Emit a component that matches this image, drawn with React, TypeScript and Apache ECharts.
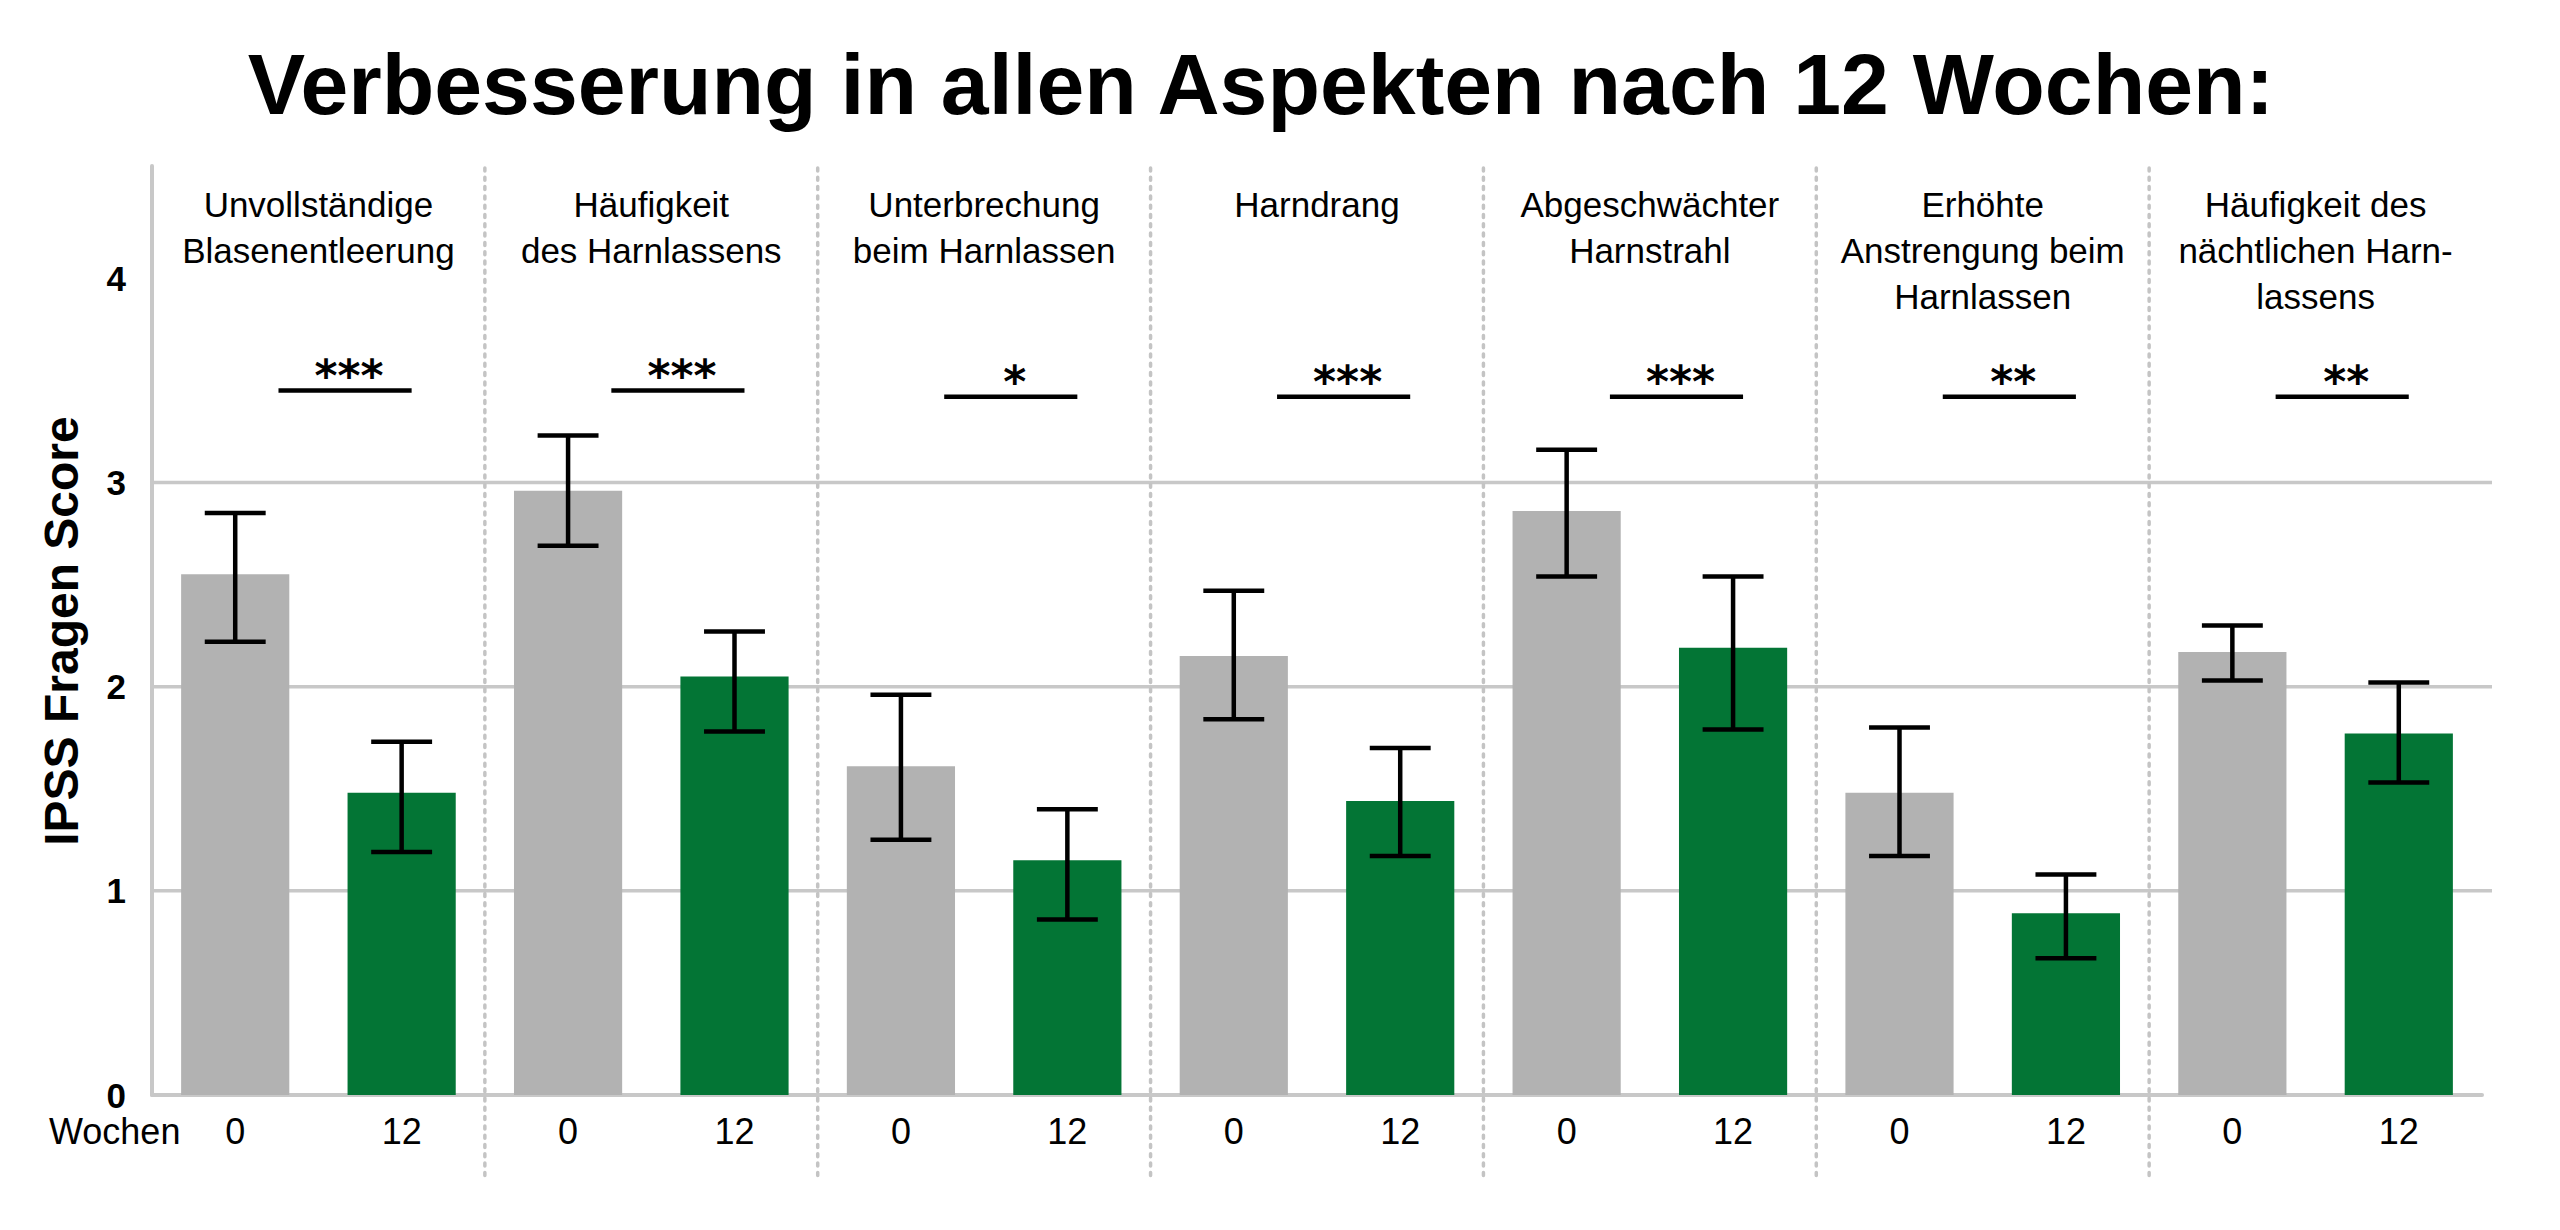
import React, { useEffect, useRef } from "react";
import * as echarts from "echarts";

// ---------- data ----------
const categories = [
  "Unvollständige\nBlasenentleerung",
  "Häufigkeit\ndes Harnlassens",
  "Unterbrechung\nbeim Harnlassen",
  "Harndrang",
  "Abgeschwächter\nHarnstrahl",
  "Erhöhte\nAnstrengung beim\nHarnlassen",
  "Häufigkeit des\nnächtlichen Harn-\nlassens",
];
const weekLabels = ["0", "12"];
const week0Mean = [2.55, 2.96, 1.61, 2.15, 2.86, 1.48, 2.17];
const week0Lower = [2.22, 2.69, 1.25, 1.84, 2.54, 1.17, 2.03];
const week0Upper = [2.85, 3.23, 1.96, 2.47, 3.16, 1.8, 2.3];
const week12Mean = [1.48, 2.05, 1.15, 1.44, 2.19, 0.89, 1.77];
const week12Lower = [1.19, 1.78, 0.86, 1.17, 1.79, 0.67, 1.53];
const week12Upper = [1.73, 2.27, 1.4, 1.7, 2.54, 1.08, 2.02];
const significance = ["***", "***", "*", "***", "***", "**", "**"];
const sigLevel = [3.45, 3.45, 3.42, 3.42, 3.42, 3.42, 3.42];
const yTicks = [0, 1, 2, 3, 4];
const gridValues = [1, 2, 3];
const titleText = "Verbesserung in allen Aspekten nach 12 Wochen:";
const yAxisTitle = "IPSS Fragen Score";
const xAxisTitle = "Wochen";

// ---------- styles ----------
const GRAY = "#b2b2b2";
const GREEN = "#037535";
const LINE_GRAY = "#c8c8c8";
const FONT = '"Liberation Sans", Arial, Helvetica, sans-serif';

export default function App() {
  const ref = useRef<HTMLDivElement>(null);

  useEffect(() => {
    if (!ref.current) return;
    const chart = echarts.init(ref.current, null, { renderer: "svg" });

    const xCats: string[] = [];
    categories.forEach(() => weekLabels.forEach((w) => xCats.push(w)));

    const barData: any[] = [];
    const errData: number[][] = [];
    categories.forEach((_, i) => {
      barData.push({ value: week0Mean[i], itemStyle: { color: GRAY } });
      barData.push({ value: week12Mean[i], itemStyle: { color: GREEN } });
      errData.push([2 * i, week0Lower[i], week0Upper[i]]);
      errData.push([2 * i + 1, week12Lower[i], week12Upper[i]]);
    });
    const groupData = categories.map((_, i) => [2 * i, sigLevel[i]]);

    const option: any = {
      animation: false,
      backgroundColor: "#ffffff",
      grid: { left: 152, right: 78, top: 166, bottom: 135, containLabel: false },
      xAxis: {
        type: "category",
        data: xCats,
        axisLine: { show: true, lineStyle: { color: LINE_GRAY, width: 4 } },
        axisTick: { show: false },
        axisLabel: { color: "#000", fontSize: 36, fontFamily: FONT, margin: 18, interval: 0 },
        splitLine: { show: false },
      },
      yAxis: {
        type: "value",
        min: 0,
        max: 4.55,
        interval: 1,
        axisLine: { show: true, lineStyle: { color: LINE_GRAY, width: 4 } },
        axisTick: { show: false },
        splitLine: { show: false },
        axisLabel: {
          color: "#000",
          fontSize: 35,
          fontWeight: "bold",
          fontFamily: FONT,
          margin: 26,
          formatter: (v: number) => (yTicks.indexOf(v) >= 0 ? String(v) : ""),
        },
      },
      graphic: [
        {
          type: "text",
          x: 1261,
          y: 84,
          style: {
            text: titleText,
            fontSize: 86,
            fontWeight: "bold",
            fontFamily: FONT,
            fill: "#000",
            align: "center",
            verticalAlign: "middle",
          },
        },
        {
          type: "text",
          x: 61,
          y: 631,
          rotation: Math.PI / 2,
          style: {
            text: yAxisTitle,
            fontSize: 48,
            fontWeight: "bold",
            fontFamily: FONT,
            fill: "#000",
            align: "center",
            verticalAlign: "middle",
          },
        },
        {
          type: "text",
          x: 49,
          y: 1131,
          style: {
            text: xAxisTitle,
            fontSize: 36,
            fontFamily: FONT,
            fill: "#000",
            align: "left",
            verticalAlign: "middle",
          },
        },
      ],
      series: [
        {
          type: "custom",
          name: "gridlines",
          z: 1,
          silent: true,
          clip: false,
          data: gridValues.map((v) => [0, v]),
          encode: { x: 0, y: 1 },
          renderItem: (params: any, api: any) => {
            const cs = params.coordSys;
            const y = api.coord([0, api.value(1)])[1];
            return {
              type: "line",
              shape: { x1: cs.x, y1: y, x2: cs.x + cs.width + 10, y2: y },
              style: { stroke: LINE_GRAY, lineWidth: 3.5 },
            };
          },
        },
        {
          type: "bar",
          name: "scores",
          z: 2,
          barWidth: "65%",
          data: barData,
        },
        {
          type: "custom",
          name: "errors",
          z: 3,
          silent: true,
          data: errData,
          encode: { x: 0, y: [1, 2] },
          renderItem: (params: any, api: any) => {
            const idx = api.value(0);
            const x = api.coord([idx, 0])[0];
            const yLo = api.coord([idx, api.value(1)])[1];
            const yHi = api.coord([idx, api.value(2)])[1];
            const half = api.size([1, 0])[0] * 0.183;
            const st = { stroke: "#000", lineWidth: 4.5 };
            return {
              type: "group",
              children: [
                { type: "line", shape: { x1: x, y1: yLo, x2: x, y2: yHi }, style: st },
                { type: "line", shape: { x1: x - half, y1: yHi, x2: x + half, y2: yHi }, style: st },
                { type: "line", shape: { x1: x - half, y1: yLo, x2: x + half, y2: yLo }, style: st },
              ],
            };
          },
        },
        {
          type: "custom",
          name: "groups",
          z: 4,
          silent: true,
          clip: false,
          data: groupData,
          encode: { x: 0, y: 1 },
          renderItem: (params: any, api: any) => {
            const i = params.dataIndex;
            const cs = params.coordSys;
            const catW = api.size([1, 0])[0];
            const x0 = api.coord([api.value(0), 0])[0];
            const cx = x0 + catW / 2;
            const ySig = api.coord([api.value(0), api.value(1)])[1];
            const lineCx = cx + 0.16 * catW;
            const halfLen = 0.4 * catW;
            const children: any[] = [];
            if (i > 0) {
              const sx = x0 - catW / 2;
              children.push({
                type: "line",
                shape: { x1: sx, y1: cs.y + 2, x2: sx, y2: cs.y + cs.height + 85 },
                style: { stroke: "#c4c4c4", lineWidth: 3.5, lineDash: [3, 6.3], lineCap: "round" },
              });
            }
            children.push({
              type: "text",
              style: {
                text: categories[i],
                x: cx,
                y: cs.y + 15,
                align: "center",
                verticalAlign: "top",
                fontSize: 35,
                lineHeight: 46,
                fontFamily: FONT,
                fill: "#000",
              },
            });
            children.push({
              type: "line",
              shape: { x1: lineCx - halfLen, y1: ySig, x2: lineCx + halfLen, y2: ySig },
              style: { stroke: "#000", lineWidth: 4.5 },
            });
            children.push({
              type: "text",
              style: {
                text: significance[i],
                x: lineCx + 4,
                y: ySig - 15,
                align: "center",
                verticalAlign: "middle",
                fontSize: 44,
                fontWeight: "bold",
                fontFamily: '"DejaVu Sans", sans-serif',
                fill: "#000",
              },
            });
            return { type: "group", children };
          },
        },
      ],
    };

    chart.setOption(option);
    return () => chart.dispose();
  }, []);

  return (
    <div
      ref={ref}
      style={{ position: "fixed", left: 0, top: 0, width: 2560, height: 1230, background: "#fff" }}
    />
  );
}
